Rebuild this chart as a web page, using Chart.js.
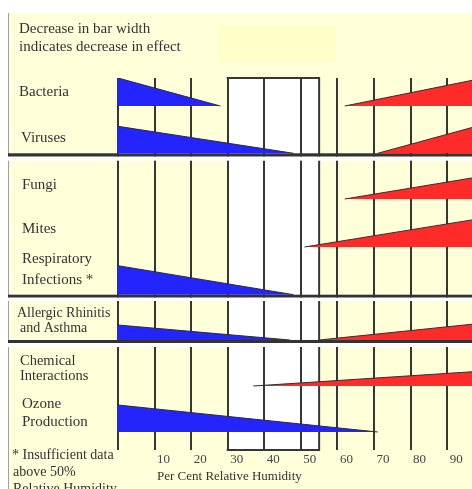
<!DOCTYPE html>
<html><head><meta charset="utf-8">
<script src="https://cdn.jsdelivr.net/npm/chart.js@4.4.0/dist/chart.umd.min.js"></script>
<style>html,body{margin:0;padding:0;background:#fff;}canvas{display:block;}</style>
</head><body>
<canvas id="c" width="472" height="489" style="width:472px;height:489px"></canvas>
<script>
// ---- Data ----
const EFFECTS = ['Bacteria', 'Viruses', 'Fungi', 'Mites', 'Respiratory Infections *',
                 'Allergic Rhinitis and Asthma', 'Chemical Interactions', 'Ozone Production'];
const EFFECT_LABEL_LINES = [['Bacteria'], ['Viruses'], ['Fungi'], ['Mites'],
                 ['Respiratory', 'Infections *'], ['Allergic Rhinitis', 'and Asthma'],
                 ['Chemical', 'Interactions'], ['Ozone', 'Production']];
// low-humidity effect: bar width at 0 % RH, decreasing to zero at LOW_RH_END
const LOW_RH_END   = [28, 48, null, null, 48, 47, null, 71];
const LOW_RH_WIDTH = [28, 27, 0, 0, 29, 15, 0, 27];
// high-humidity effect: starts at HIGH_RH_START, bar width at 100 % RH
const HIGH_RH_START = [62, 71, 62, 51, null, 55, 37, null];
const HIGH_RH_WIDTH = [28, 29, 23, 29, 0, 17, 15, 0];
const TICK_VALUES = [10, 20, 30, 40, 50, 60, 70, 80, 90];
const OPTIMUM_ZONE = [30, 55];
const TITLE_LINES = ['Decrease in bar width', 'indicates decrease in effect'];
const AXIS_TITLE = 'Per Cent Relative Humidity';
const FOOTNOTE_LINES = ['* Insufficient data', 'above 50%', 'Relative Humidity'];

// ---- Layout / style ----
const ROW_BASE = [28, 75.3, 121, 169, 216.7, 262, 308, 354]; // y units from plot top
const LABEL_POS = [[[19, 95.7, 15]], [[21, 141.7, 15]], [[22, 189, 15]], [[22, 233, 15]],
                   [[22, 263, 15], [22, 284, 15]], [[17, 317, 14], [20, 332, 14]],
                   [[20, 365, 14.5], [20, 380, 14.5]], [[22, 408, 15], [22, 426, 15]]];
const BLUE = 'rgb(36,36,255)';
const RED = 'rgb(255,42,42)';
const YELLOW = '#FFFFDA';
const DARK = '#363636';
const TEXT = '#333333';
const SERIF = '"Liberation Serif", "DejaVu Serif", serif';

const datasets = [];
EFFECTS.forEach((name, i) => {
  const base = ROW_BASE[i];
  if (LOW_RH_END[i] !== null) {
    datasets.push({
      label: name + ' (low RH)', type: 'line',
      data: [{x: 0, y: base - LOW_RH_WIDTH[i]}, {x: LOW_RH_END[i], y: base}],
      fill: {value: base}, backgroundColor: BLUE, borderColor: '#2a2a40', borderWidth: 1,
      pointRadius: 0, tension: 0
    });
  }
  if (HIGH_RH_START[i] !== null) {
    datasets.push({
      label: name + ' (high RH)', type: 'line',
      data: [{x: HIGH_RH_START[i], y: base}, {x: 100, y: base - HIGH_RH_WIDTH[i]}],
      fill: {value: base}, backgroundColor: RED, borderColor: '#402a2a', borderWidth: 1,
      pointRadius: 0, tension: 0
    });
  }
});

const decor = {
  id: 'decor',
  beforeDraw(chart) {
    const ctx = chart.ctx, x = chart.scales.x, a = chart.chartArea;
    ctx.save();
    ctx.fillStyle = '#fff'; ctx.fillRect(0, 0, chart.width, chart.height);
    ctx.fillStyle = YELLOW; ctx.fillRect(8, 13, chart.width - 8, chart.height - 13);
    ctx.fillStyle = '#FFFFC8'; ctx.fillRect(217, 25, 119, 37);
    ctx.strokeStyle = '#a0a0a0'; ctx.lineWidth = 1;
    ctx.beginPath(); ctx.moveTo(8.5, 13); ctx.lineTo(8.5, chart.height); ctx.stroke();
    const x0 = x.getPixelForValue(OPTIMUM_ZONE[0]), x1 = x.getPixelForValue(OPTIMUM_ZONE[1]);
    ctx.fillStyle = '#fff'; ctx.fillRect(x0, a.top, x1 - x0, a.bottom - a.top);
    ctx.restore();
  },
  beforeDatasetsDraw(chart) {
    const ctx = chart.ctx, x = chart.scales.x, a = chart.chartArea;
    const x0 = x.getPixelForValue(OPTIMUM_ZONE[0]), x1 = x.getPixelForValue(OPTIMUM_ZONE[1]);
    ctx.save();
    ctx.strokeStyle = DARK; ctx.lineWidth = 2;
    ctx.beginPath();
    ctx.moveTo(x1, a.top); ctx.lineTo(x1, a.bottom);
    ctx.moveTo(x0 - 1, a.top); ctx.lineTo(x1 + 1, a.top);
    ctx.moveTo(x0 - 1, a.bottom); ctx.lineTo(x1 + 1, a.bottom);
    ctx.stroke();
    ctx.restore();
  },
  afterDatasetsDraw(chart) {
    const ctx = chart.ctx, y = chart.scales.y;
    ctx.save();
    const seps = [[ROW_BASE[1], 3.4, 4], [ROW_BASE[4], 3, 3.3], [ROW_BASE[5], 3, 4]];
    seps.forEach(([v, h, g]) => {
      const py = y.getPixelForValue(v);
      ctx.fillStyle = '#333'; ctx.fillRect(8, py, chart.width - 8, h);
      ctx.fillStyle = '#fff'; ctx.fillRect(8, py + h, chart.width - 8, g);
    });
    ctx.restore();
  },
  afterDraw(chart) {
    const ctx = chart.ctx;
    ctx.save();
    ctx.fillStyle = TEXT; ctx.textBaseline = 'alphabetic'; ctx.textAlign = 'left';
    ctx.font = '15px ' + SERIF;
    ctx.fillText(TITLE_LINES[0], 19, 33);
    ctx.fillText(TITLE_LINES[1], 19, 51);
    EFFECT_LABEL_LINES.forEach((lines, i) => {
      lines.forEach((t, j) => {
        const [px, py, fs] = LABEL_POS[i][j];
        ctx.font = fs + 'px ' + SERIF;
        ctx.fillText(t, px, py);
      });
    });
    ctx.font = '14px ' + SERIF;
    ctx.fillText(FOOTNOTE_LINES[0], 12, 459);
    ctx.fillText(FOOTNOTE_LINES[1], 13, 476);
    ctx.fillText(FOOTNOTE_LINES[2], 13, 493);
    ctx.font = '13px ' + SERIF;
    ctx.fillText(AXIS_TITLE, 157, 480);
    ctx.restore();
  }
};

new Chart(document.getElementById('c'), {
  type: 'line',
  data: {datasets},
  options: {
    responsive: false, animation: false, events: [],
    layout: {padding: {left: 118, top: 78, right: 0, bottom: 0}},
    plugins: {legend: {display: false}, tooltip: {enabled: false}},
    scales: {
      x: {
        type: 'linear', min: 0, max: 96.8,
        afterBuildTicks: s => { s.ticks = [0].concat(TICK_VALUES).map(v => ({value: v})); },
        afterFit: s => { s.height = 39; },
        border: {display: false},
        grid: {color: DARK, lineWidth: 2, drawTicks: false},
        ticks: {
          callback: v => (TICK_VALUES.includes(v) ? String(v) : ''),
          font: {family: SERIF, size: 13}, color: '#444', labelOffset: 9, padding: 2,
          maxRotation: 0, autoSkip: false
        }
      },
      y: {type: 'linear', min: 0, max: 372, reverse: true, display: false}
    }
  },
  plugins: [decor]
});
</script>
</body></html>
